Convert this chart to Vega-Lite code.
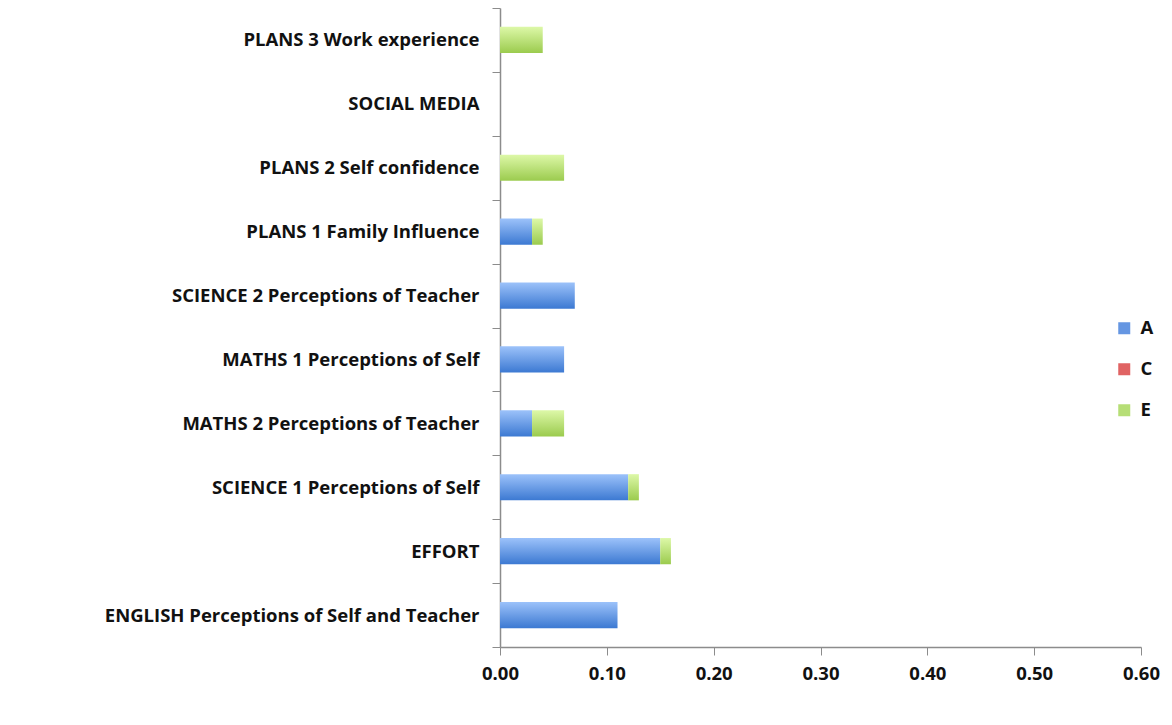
{
  "$schema": "https://vega.github.io/schema/vega-lite/v6.json",
  "autosize": {"type": "none"},
  "width": 641,
  "height": 639,
  "padding": {"left": 500, "top": 8, "right": 31, "bottom": 78},
  "background": "white",
  "config": {"view": {"stroke": null}, "font": "Open Sans"},
  "data": {
    "values": [
      {"cat": "PLANS 3 Work experience", "s": "E", "v": 0.04},
      {"cat": "SOCIAL MEDIA", "s": "C", "v": 0},
      {"cat": "PLANS 2 Self confidence", "s": "E", "v": 0.06},
      {"cat": "PLANS 1 Family Influence", "s": "A", "v": 0.03},
      {"cat": "PLANS 1 Family Influence", "s": "E", "v": 0.01},
      {"cat": "SCIENCE 2 Perceptions of Teacher", "s": "A", "v": 0.07},
      {"cat": "MATHS 1 Perceptions of Self", "s": "A", "v": 0.06},
      {"cat": "MATHS 2 Perceptions of Teacher", "s": "A", "v": 0.03},
      {"cat": "MATHS 2 Perceptions of Teacher", "s": "E", "v": 0.03},
      {"cat": "SCIENCE 1 Perceptions of Self", "s": "A", "v": 0.12},
      {"cat": "SCIENCE 1 Perceptions of Self", "s": "E", "v": 0.01},
      {"cat": "EFFORT", "s": "A", "v": 0.15},
      {"cat": "EFFORT", "s": "E", "v": 0.01},
      {"cat": "ENGLISH Perceptions of Self and Teacher", "s": "A", "v": 0.11}
    ]
  },
  "mark": {"type": "bar", "height": {"band": 0.41}},
  "encoding": {
    "y": {
      "field": "cat",
      "type": "nominal",
      "scale": {
        "domain": ["PLANS 3 Work experience", "SOCIAL MEDIA", "PLANS 2 Self confidence", "PLANS 1 Family Influence", "SCIENCE 2 Perceptions of Teacher", "MATHS 1 Perceptions of Self", "MATHS 2 Perceptions of Teacher", "SCIENCE 1 Perceptions of Self", "EFFORT", "ENGLISH Perceptions of Self and Teacher"],
        "paddingInner": 0,
        "paddingOuter": 0
      },
      "axis": {
        "title": null,
        "tickBand": "extent",
        "tickSize": 8,
        "tickColor": "#8c8c8c",
        "domainColor": "#8c8c8c",
        "domainWidth": 1.5,
        "labelFontSize": 18.5,
        "labelFontWeight": "bold",
        "labelColor": "#111111",
        "labelPadding": 13,
        "labelLimit": 500
      }
    },
    "x": {
      "field": "v",
      "type": "quantitative",
      "stack": "zero",
      "scale": {"domain": [0, 0.6], "nice": false},
      "axis": {
        "title": null,
        "values": [0, 0.1, 0.2, 0.3, 0.4, 0.5, 0.6],
        "format": ".2f",
        "grid": false,
        "tickSize": 8,
        "tickColor": "#8c8c8c",
        "domainColor": "#8c8c8c",
        "domainWidth": 1.5,
        "labelFontSize": 18.5,
        "labelFontWeight": "bold",
        "labelColor": "#111111",
        "labelPadding": 9,
        "labelFlush": false
      }
    },
    "color": {
      "condition": [
        {"test": "datum.s === 'A'", "value": {"gradient": "linear", "x1": 0, "y1": 0, "x2": 0, "y2": 1, "stops": [{"offset": 0, "color": "#9CC2FA"}, {"offset": 1, "color": "#3C79D2"}]}},
        {"test": "datum.s === 'E'", "value": {"gradient": "linear", "x1": 0, "y1": 0, "x2": 0, "y2": 1, "stops": [{"offset": 0, "color": "#DDF8A8"}, {"offset": 1, "color": "#9BCB4E"}]}}
      ],
      "field": "s",
      "type": "nominal",
      "scale": {"domain": ["A", "C", "E"], "range": ["#6596E2", "#E06363", "#B6DE76"]},
      "legend": {
        "title": null,
        "orient": "none",
        "legendX": 615,
        "legendY": 311,
        "symbolType": "square",
        "symbolSize": 144,
        "symbolStrokeWidth": 0,
        "labelFontSize": 18.5,
        "labelFontWeight": "bold",
        "labelColor": "#111111",
        "rowPadding": 22,
        "labelOffset": 7
      }
    }
  }
}
